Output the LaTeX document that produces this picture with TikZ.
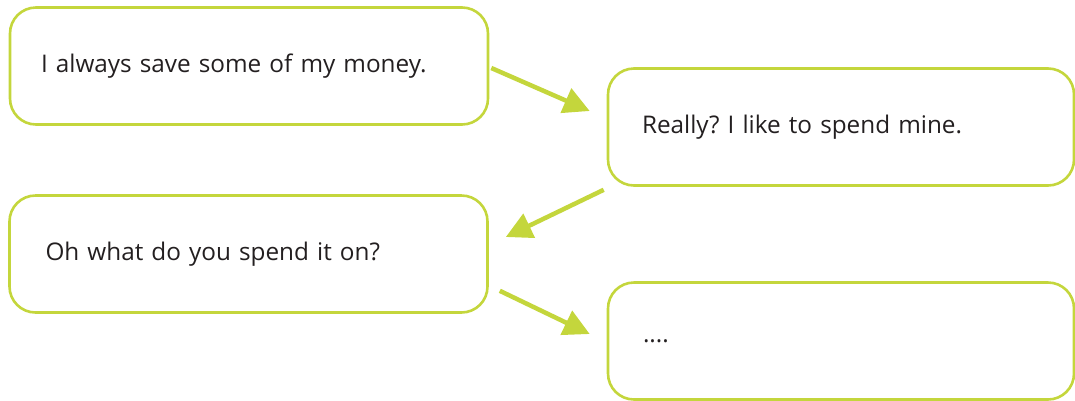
\documentclass[tikz,border=0pt]{standalone}
\usepackage{fontspec}
\setmainfont{Open Sans}
\usetikzlibrary{arrows.meta}
\definecolor{lime}{RGB}{196,214,60}
\definecolor{txt}{RGB}{35,31,32}
\frenchspacing
\begin{document}
\begin{tikzpicture}[x=1pt,y=-1pt,
  bubble/.style={draw=lime,line width=2.6pt,rounded corners=26pt,minimum width=478pt,minimum height=117pt,
    text width=410pt,align=left,inner xsep=0pt,font=\fontsize{24.3}{29}\selectfont,text=txt},
  arr/.style={draw=lime,line width=4.5pt,-{Triangle[length=26pt,width=26pt]}}]
\useasboundingbox (0,0) rectangle (1075,400);
\node[bubble,text width=416pt] (b1) at (249,66) {I always save some of my money.};
\node[bubble,minimum width=466pt,text width=398pt] (b2) at (841,127) {Really? I like to spend mine.};
\node[bubble,text width=406pt] (b3) at (248.5,254) {Oh what do you spend it on?};
\node[bubble,minimum width=466pt,text width=396pt] (b4) at (841,341) {....};
\draw[arr] ([xshift=2pt,yshift=-2pt]b1.east) -- ([xshift=-17pt,yshift=16pt]b2.west);
\draw[arr] ([xshift=-3pt,yshift=-3pt]b2.south west) -- ([xshift=17pt,yshift=17pt]b3.east);
\draw[arr] ([xshift=11pt,yshift=23pt]b3.south east) -- ([xshift=-17pt,yshift=7pt]b4.west);
\end{tikzpicture}
\end{document}
